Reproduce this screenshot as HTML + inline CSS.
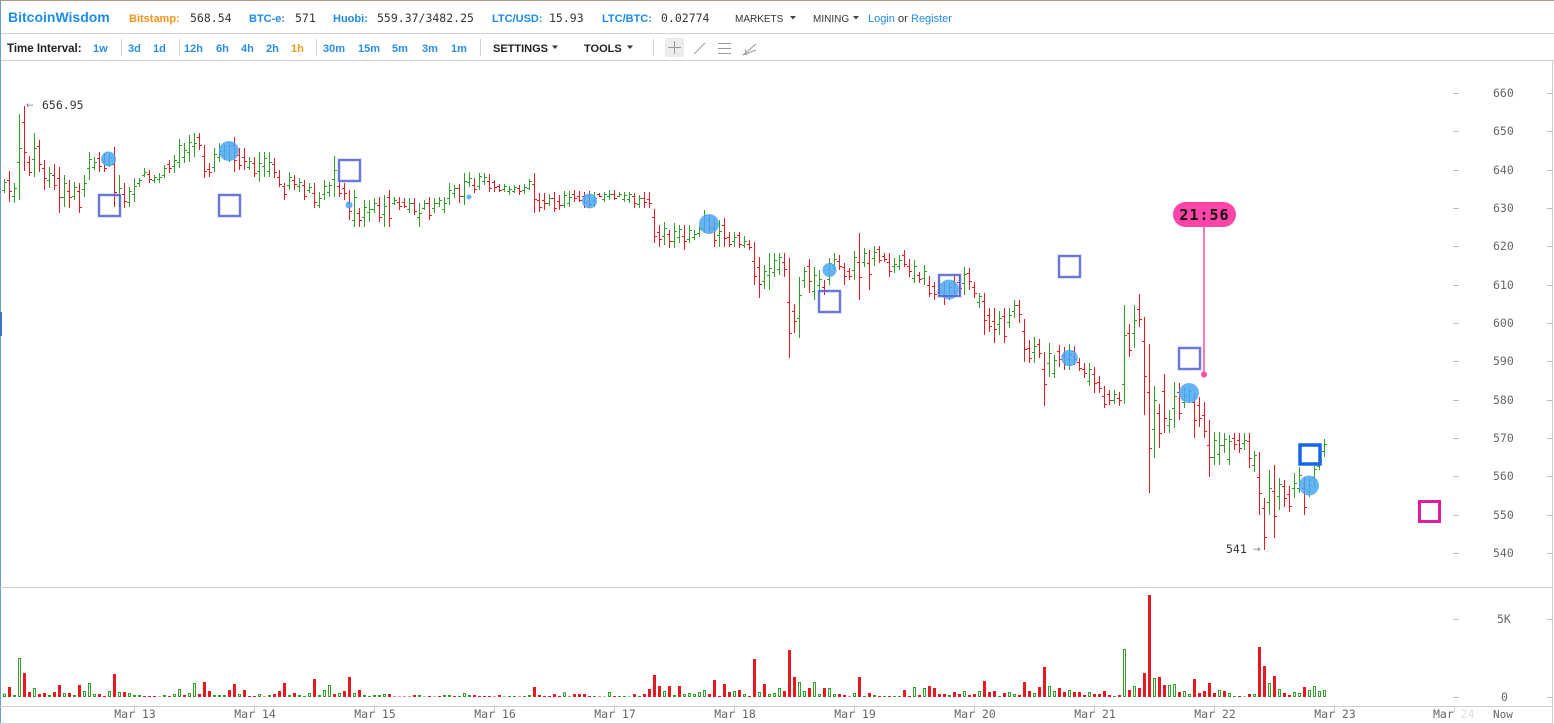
<!DOCTYPE html>
<html><head><meta charset="utf-8"><style>
html,body{margin:0;padding:0;background:#fff;width:1554px;height:724px;overflow:hidden}
svg{display:block}
.hb{font-family:"Liberation Sans",sans-serif;font-weight:bold;font-size:11px}
.hn{font-family:"DejaVu Sans Mono","Liberation Mono",monospace;font-size:11.5px;fill:#333}
.tb{font-family:"Liberation Sans",sans-serif;font-weight:bold;font-size:11px;fill:#2a8de8}
.ax{font-family:"DejaVu Sans Mono","Liberation Mono",monospace;font-size:11.5px;fill:#666}
</style></head><body>
<svg id="s" width="1554" height="724" viewBox="0 0 1554 724" xmlns="http://www.w3.org/2000/svg">
<rect x="0" y="0" width="1554" height="724" fill="#fff"/>
<!-- borders -->
<line x1="0" y1="0.5" x2="1554" y2="0.5" stroke="#a89a85"/>
<line x1="0" y1="33.5" x2="1554" y2="33.5" stroke="#d0d0d0"/>
<line x1="0" y1="60.5" x2="1554" y2="60.5" stroke="#cfcfcf"/>
<line x1="0.5" y1="1" x2="0.5" y2="724" stroke="#6b9bd1"/>
<rect x="0" y="312" width="2" height="24" fill="#3d74c0"/>
<line x1="1552.5" y1="61" x2="1552.5" y2="724" stroke="#cfcfcf"/>
<line x1="0" y1="587.5" x2="1553" y2="587.5" stroke="#cfcfcf"/>
<line x1="0" y1="706.5" x2="1553" y2="706.5" stroke="#cfcfcf"/>
<line x1="0" y1="723.5" x2="1553" y2="723.5" stroke="#cfcfcf"/>

<!-- header -->
<text x="8" y="22" font-family="Liberation Sans, sans-serif" font-weight="bold" font-size="14" fill="#1b8ded">BitcoinWisdom</text>
<text x="129" y="22" class="hb" fill="#f7931a">Bitstamp:</text>
<text x="190" y="22" class="hn">568.54</text>
<text x="249" y="22" class="hb" fill="#1f8be8">BTC-e:</text>
<text x="295" y="22" class="hn">571</text>
<text x="333" y="22" class="hb" fill="#1f8be8">Huobi:</text>
<text x="377" y="22" class="hn">559.37/3482.25</text>
<text x="492" y="22" class="hb" fill="#1f8be8">LTC/USD:</text>
<text x="549" y="22" class="hn">15.93</text>
<text x="602" y="22" class="hb" fill="#1f8be8">LTC/BTC:</text>
<text x="661" y="22" class="hn">0.02774</text>
<text x="735" y="22" font-family="Liberation Sans, sans-serif" font-size="10" fill="#333">MARKETS</text>
<polygon points="790,16 796,16 793,19.5" fill="#444"/>
<text x="813" y="22" font-family="Liberation Sans, sans-serif" font-size="10" fill="#333">MINING</text>
<polygon points="853,16 859,16 856,19.5" fill="#444"/>
<text x="868" y="22" font-family="Liberation Sans, sans-serif" font-size="11" fill="#1f8be8">Login</text>
<text x="898" y="22" font-family="Liberation Sans, sans-serif" font-size="11" fill="#333">or</text>
<text x="911" y="22" font-family="Liberation Sans, sans-serif" font-size="11" fill="#1f8be8">Register</text>

<!-- toolbar -->
<text x="7" y="52" font-family="Liberation Sans, sans-serif" font-weight="bold" font-size="11.5" fill="#222">Time Interval:</text>
<text x="93" y="52" class="tb">1w</text>
<text x="128" y="52" class="tb">3d</text>
<text x="153" y="52" class="tb">1d</text>
<text x="184" y="52" class="tb">12h</text>
<text x="216" y="52" class="tb">6h</text>
<text x="241" y="52" class="tb">4h</text>
<text x="266" y="52" class="tb">2h</text>
<text x="291" y="52" class="tb" style="fill:#f39a1c">1h</text>
<text x="323" y="52" class="tb">30m</text>
<text x="358" y="52" class="tb">15m</text>
<text x="392" y="52" class="tb">5m</text>
<text x="422" y="52" class="tb">3m</text>
<text x="451" y="52" class="tb">1m</text>
<g stroke="#d0d0d0">
<line x1="121.5" y1="39" x2="121.5" y2="56"/>
<line x1="179.5" y1="39" x2="179.5" y2="56"/>
<line x1="316.5" y1="39" x2="316.5" y2="56"/>
<line x1="480.5" y1="39" x2="480.5" y2="56"/>
<line x1="653.5" y1="39" x2="653.5" y2="56"/>
</g>
<text x="493" y="52" font-family="Liberation Sans, sans-serif" font-weight="bold" font-size="11" fill="#222">SETTINGS</text>
<polygon points="552,45.5 558,45.5 555,49" fill="#333"/>
<text x="584" y="52" font-family="Liberation Sans, sans-serif" font-weight="bold" font-size="11" fill="#222">TOOLS</text>
<polygon points="627,45.5 633,45.5 630,49" fill="#333"/>
<rect x="665" y="38" width="19" height="19" rx="2" fill="#ececec"/>
<g stroke="#999" stroke-width="1">
<line x1="674.5" y1="41" x2="674.5" y2="54"/>
<line x1="668" y1="47.5" x2="681" y2="47.5"/>
<line x1="694" y1="54" x2="705" y2="43"/>
<line x1="718" y1="43.5" x2="731" y2="43.5"/>
<line x1="718" y1="48.5" x2="731" y2="48.5"/>
<line x1="718" y1="53.5" x2="731" y2="53.5"/>
<line x1="743" y1="55" x2="756" y2="44"/>
<line x1="743" y1="55" x2="756" y2="50"/>
<line x1="745" y1="49" x2="747" y2="55"/>
</g>

<!-- price axis -->
<g id="axis"></g>

<!-- bars -->
<g id="bars"></g>

<!-- annotations -->
<text x="26" y="108" font-family="DejaVu Sans, sans-serif" font-size="9" fill="#777">←</text>
<text x="42" y="109" class="hn">656.95</text>
<text x="1226" y="553" class="hn">541</text>
<text x="1253" y="552" font-family="DejaVu Sans, sans-serif" font-size="9" fill="#777">→</text>

<g fill="#4aa8f4" fill-opacity="0.85">
<circle cx="108.5" cy="159" r="7.5"/>
<circle cx="229" cy="151" r="10"/>
<circle cx="349" cy="205" r="3.5"/>
<circle cx="469" cy="197" r="2.5"/>
<circle cx="589.5" cy="201" r="7.5"/>
<circle cx="709" cy="224" r="10"/>
<circle cx="829.5" cy="270" r="7"/>
<circle cx="949" cy="289.5" r="10"/>
<circle cx="1069.5" cy="358" r="8.3"/>
<circle cx="1189" cy="393" r="10"/>
<circle cx="1309" cy="485.5" r="10"/>
</g>
<g fill="none">
<g stroke="#9aa6ea" stroke-opacity="0.35" stroke-width="4">
<rect x="99" y="195" width="21" height="21"/>
<rect x="219" y="195" width="21" height="21"/>
<rect x="339" y="160" width="21" height="21"/>
<rect x="819" y="291" width="21" height="21"/>
<rect x="939" y="275" width="21" height="21"/>
<rect x="1059" y="256" width="21" height="21"/>
<rect x="1179" y="348" width="21" height="21"/>
</g>
<g stroke="#4d5fd4" stroke-width="1.6">
<rect x="99" y="195" width="21" height="21"/>
<rect x="219" y="195" width="21" height="21"/>
<rect x="339" y="160" width="21" height="21"/>
<rect x="819" y="291" width="21" height="21"/>
<rect x="939" y="275" width="21" height="21"/>
<rect x="1059" y="256" width="21" height="21"/>
<rect x="1179" y="348" width="21" height="21"/>
</g>
<rect x="1300" y="445" width="20" height="19" stroke="#1766ea" stroke-width="3.5"/>
<rect x="1419.5" y="501.5" width="20" height="20" stroke="#e01c9e" stroke-width="3"/>
</g>

<line x1="1204" y1="226" x2="1204" y2="374" stroke="#ff4aa8" stroke-width="1.5"/>
<circle cx="1204" cy="374.5" r="3" fill="#ff4aa8"/>
<rect x="1173" y="202" width="63" height="25" rx="12.5" fill="#ff45a8"/>
<text x="1204.5" y="220" text-anchor="middle" font-family="DejaVu Sans Mono, Liberation Mono, monospace" font-weight="bold" font-size="15" letter-spacing="1" fill="#111">21:56</text>
</svg>
<script>
(function(){
var G="#2f9f29",R="#e5191f";
var P=[[4,179,193,1],[9,171,202,0],[14,183,203,1],[19,114,200,1],[24,106,171,0],[29,156,176,0],[34,133,177,1],[39,140,172,0],[44,160,190,0],[49,167,188,1],[54,164,190,0],[59,167,213,0],[64,175,207,1],[69,180,208,0],[74,182,200,1],[79,183,213,0],[84,175,197,1],[89,152,180,1],[94,157,170,1],[99,152,172,0],[104,153,172,0],[109,152,167,1],[114,147,207,0],[119,175,207,1],[124,183,208,0],[129,187,207,1],[134,178,202,1],[139,178,187,1],[144,168,177,1],[149,170,183,0],[154,175,183,1],[159,173,183,1],[164,165,178,1],[169,160,173,0],[174,155,173,1],[179,139,168,1],[184,143,163,1],[189,135,162,1],[194,133,157,1],[199,133,150,0],[204,145,178,0],[209,163,177,0],[214,148,172,1],[219,143,162,1],[224,145,160,1],[229,142,162,1],[234,137,172,0],[239,148,170,0],[244,148,170,0],[249,157,170,1],[254,157,177,0],[259,152,182,1],[264,152,177,1],[269,152,177,1],[274,158,178,0],[279,170,187,0],[284,183,200,0],[289,172,190,1],[294,175,190,0],[299,178,192,1],[304,180,200,0],[309,183,193,1],[314,183,208,0],[319,192,208,1],[324,180,200,1],[329,182,197,1],[334,156,197,1],[339,182,197,0],[344,183,200,0],[349,190,220,0],[354,190,227,1],[359,208,227,0],[364,200,227,1],[369,200,222,1],[374,198,213,1],[379,197,222,0],[384,195,227,1],[389,190,227,0],[394,197,205,1],[399,197,210,0],[404,198,208,0],[409,198,213,1],[414,198,215,0],[419,203,227,1],[424,200,210,1],[429,197,220,0],[434,198,213,1],[439,197,207,1],[444,197,213,1],[449,183,205,1],[454,185,198,1],[459,184,203,0],[464,173,205,1],[469,172,187,1],[474,178,193,0],[479,173,190,1],[484,173,185,1],[489,174,192,0],[494,180,192,0],[499,184,192,0],[504,184,192,1],[509,186,195,1],[514,185,193,1],[519,185,195,0],[524,184,194,1],[529,179,190,1],[534,173,213,0],[539,193,212,0],[544,193,210,0],[549,194,206,1],[554,192,212,0],[559,195,210,0],[564,191,208,1],[569,191,207,1],[574,190,202,0],[579,191,202,0],[584,192,208,0],[589,191,208,0],[594,192,207,1],[599,193,197,0],[604,192,202,1],[609,190,200,1],[614,190,200,0],[619,192,197,1],[624,192,202,1],[629,192,203,1],[634,193,208,0],[639,195,208,1],[644,192,208,0],[649,192,208,0],[654,209,243,0],[659,225,247,0],[664,222,245,1],[669,230,248,0],[674,223,248,1],[679,225,243,1],[684,225,250,0],[689,225,243,1],[694,230,240,1],[699,226,237,1],[704,210,233,1],[709,215,233,0],[714,218,247,0],[719,220,247,1],[724,218,247,0],[729,232,247,0],[734,232,247,1],[739,232,248,0],[744,236,248,1],[749,240,250,0],[754,242,285,0],[759,257,298,0],[764,265,289,1],[769,253,290,1],[774,253,277,1],[779,253,275,1],[784,253,277,0],[789,258,358,0],[794,304,333,0],[799,277,338,1],[804,267,288,1],[809,259,293,0],[814,267,300,1],[819,270,293,1],[824,280,295,0],[829,258,285,1],[834,253,270,1],[839,255,270,0],[844,263,285,0],[849,268,280,0],[854,251,280,1],[859,233,300,0],[864,248,267,1],[869,250,290,0],[874,246,266,1],[879,246,263,0],[884,253,262,0],[889,253,277,0],[894,258,273,1],[899,255,270,1],[904,250,267,0],[909,259,277,0],[914,260,283,1],[919,272,283,0],[924,265,285,1],[929,276,297,0],[934,282,300,0],[939,280,297,1],[944,283,305,0],[949,282,300,1],[954,275,295,0],[959,275,295,0],[964,267,295,1],[969,268,290,0],[974,282,298,0],[979,293,308,1],[984,293,335,0],[989,308,332,0],[994,308,343,0],[999,311,335,1],[1004,308,343,0],[1009,308,328,1],[1014,300,318,1],[1019,300,323,0],[1024,319,362,0],[1029,340,363,0],[1034,337,363,1],[1039,339,358,0],[1044,352,406,0],[1049,343,377,1],[1054,355,378,1],[1059,345,367,0],[1064,347,370,0],[1069,344,370,1],[1074,346,365,0],[1079,358,371,0],[1084,363,378,0],[1089,363,386,1],[1094,367,393,0],[1099,376,393,0],[1104,386,408,0],[1109,390,405,0],[1114,390,404,1],[1119,392,406,0],[1124,305,404,1],[1129,324,357,0],[1134,305,348,1],[1139,294,327,0],[1144,317,415,0],[1149,344,493,0],[1154,386,458,1],[1159,404,448,0],[1164,374,433,0],[1169,410,433,1],[1174,382,428,1],[1179,383,420,0],[1184,388,408,1],[1189,387,403,1],[1194,393,438,0],[1199,397,427,0],[1204,402,438,0],[1209,420,477,0],[1214,432,465,1],[1219,432,465,1],[1224,433,453,1],[1229,435,465,1],[1234,433,450,0],[1239,433,453,0],[1244,433,450,1],[1249,433,468,0],[1254,451,472,1],[1259,452,515,0],[1264,498,550,0],[1269,470,515,1],[1274,465,538,0],[1279,478,510,1],[1284,480,507,0],[1289,486,512,0],[1294,473,498,1],[1299,467,493,1],[1304,477,515,0],[1309,479,497,1],[1314,462,488,1],[1319,453,470,1],[1324,439,457,1]];
var V=[3.3,-10,2,39,-24,-5,9,-3,-4,2,
-5,-12,4,-4,2,-12,6,14,3,-3,
-1,6,-23,5,-5,4,2,2,-1,-1,
-1,0.5,2,-1,3,8,-2,4,14,-3,
-15,-6,2,2,2,-7,-13,3,-7,-1,
-1,3,-0.5,2,-3,-6,-14,2,-4,2,
1,4,-18,2,7,12,-3,4,-6,-20,
4,-7,2,1,2,2,3,-3,-0.5,-0.5,
-0.5,-0.5,-2,2,0.5,-1,0.5,-1,2,2,
-1,1,4,2,-2,-1,-1,-1,-0.5,-2,
0.5,1,1,-0.5,1,2,-10,-2,-1,-1,
-3,-1,
4.7,0.7,-3,-3,-3,-1,1,-0.5,0.5,5,
-1,1,1,0.5,-3,1,-3,-8,-22,-11,
6,-11,2,-11,3,4,3,5,7,-3,
-17,-1,-13,-5,6,-7,3,-1,-38,5,
-13,3,4,9,-6,-47,-20,15,6,-9,
15,3,-9,9,3,-3,-2,-0.5,4,-20,
1,-4,2,-1,1,-1,1,1,-7,-1,
10,-2,9,-11,-9,-3,-3,2,-5,-3,
6,-2,-3,6,-16,-5,-6,1,
-4,5,3,-2,-15,-6,4,-10,-30,11,
6,-9,-5,7,-5,-5,-2,5,-3,-3,
-6,-2,1,-2,48,-7,11,-9,-24,-102,
19,-20,-12,12,13,-5,6,3,-18,-4,
-6,-14,-4,7,-6,4,1,-1,0.5,-3,
3,-50,-31,14,-21,8,-4,-2,5,4,
-10,7,11,6,7];
var s="";
function ln(x1,y1,x2,y2,c){return '<line x1="'+x1+'" y1="'+y1+'" x2="'+x2+'" y2="'+y2+'" stroke="'+c+'"/>';}
for(var i=0;i<P.length;i++){
 var p=P[i],x=p[0],h=p[1],l=p[2],c=p[3]?G:R,r=l-h;
 var f1=0.2+((i*37)%7)/25,f2=0.2+((i*53)%5)/20;
 var o,cl;
 if(p[3]){o=l-r*f1;cl=h+r*f2;}else{o=h+r*f1;cl=l-r*f2;}
 o=Math.round(o)+0.5;cl=Math.round(cl)+0.5;
 s+=ln(x+0.5,h,x+0.5,l,c);
 s+=ln(x-2,o,x,o,c);
 s+=ln(x+1,cl,x+3,cl,c);
}
for(var j=0;j<V.length;j++){
 var v=V[j],xx=4+5*j,hh=Math.abs(v);
 if(v>0&&hh>=2.5){
  s+='<rect x="'+(xx-0.5)+'" y="'+(697-hh+0.5)+'" width="2" height="'+(hh-1)+'" fill="none" stroke="'+G+'"/>';
 }else{
  s+='<rect x="'+(xx-1)+'" y="'+(697-hh)+'" width="3" height="'+hh+'" fill="'+(v>0?G:R)+'"/>';
 }
}
document.getElementById("bars").innerHTML=s;
var a="";
var prices=[660,650,640,630,620,610,600,590,580,570,560,550,540];
for(var k=0;k<prices.length;k++){
 var y=Math.round(93+(660-prices[k])*3.8333);
 a+='<line x1="1453" y1="'+(y+0.5)+'" x2="1459" y2="'+(y+0.5)+'" stroke="#bbb"/>';
 a+='<line x1="1547" y1="'+(y+0.5)+'" x2="1553" y2="'+(y+0.5)+'" stroke="#bbb"/>';
 a+='<text x="1493" y="'+(y+4)+'" class="ax">'+prices[k]+'</text>';
}
[[619,"5K",1497],[697,"0",1501]].forEach(function(q){
 a+='<line x1="1453" y1="'+(q[0]+0.5)+'" x2="1459" y2="'+(q[0]+0.5)+'" stroke="#bbb"/>';
 a+='<line x1="1547" y1="'+(q[0]+0.5)+'" x2="1553" y2="'+(q[0]+0.5)+'" stroke="#bbb"/>';
 a+='<text x="'+q[2]+'" y="'+(q[0]+4)+'" class="ax">'+q[1]+'</text>';
});
for(var d=13;d<=24;d++){
 var dx=134+(d-13)*120;
 a+='<line x1="'+(dx+0.5)+'" y1="707" x2="'+(dx+0.5)+'" y2="712" stroke="#ccc"/>';
 if(d<24){a+='<text x="'+(dx+1)+'" y="718" text-anchor="middle" class="ax">Mar '+d+'</text>';}
 else{a+='<text x="'+(dx-21)+'" y="718" class="ax">Mar <tspan style="fill:#dcdcdc">24</tspan></text>';}
}
a+='<text x="1493" y="718" class="ax" style="font-size:11px">Now</text>';
document.getElementById("axis").innerHTML=a;
})();
</script>
</body></html>
